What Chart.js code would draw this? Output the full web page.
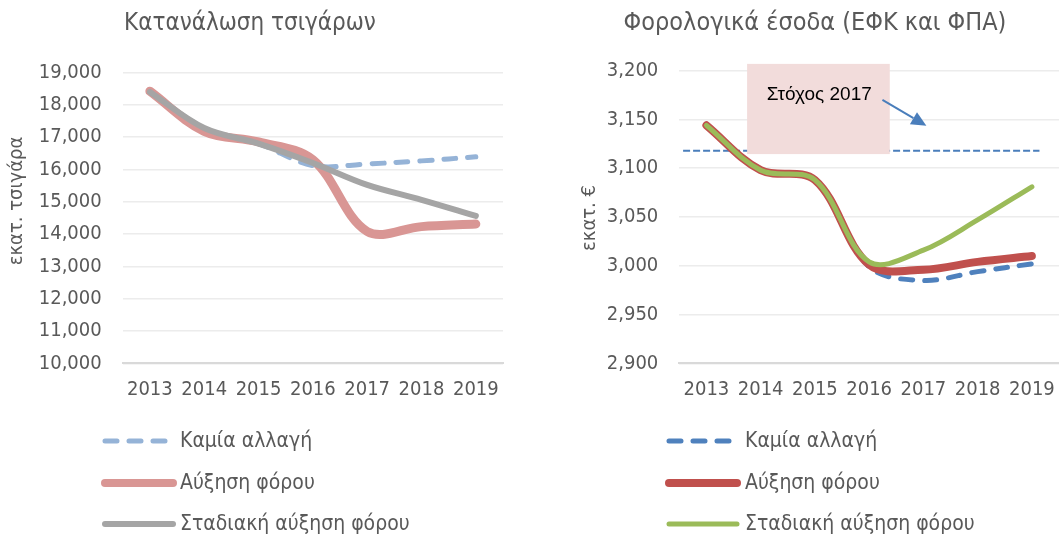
<!DOCTYPE html>
<html><head><meta charset="utf-8">
<script src="https://cdn.jsdelivr.net/npm/chart.js@4"></script>
<style>
html,body{margin:0;padding:0;background:#fff;}
#wrap{position:relative;width:1059px;height:536px;overflow:hidden;}
canvas{position:absolute;top:0;}
#c1{left:0;} #c2{left:530px;}
</style></head><body>
<div id="wrap"><canvas id="c1" width="530" height="536"></canvas><canvas id="c2" width="529" height="536"></canvas></div>
<script>
// ---------- data ----------
const years = ['2013', '2014', '2015', '2016', '2017', '2018', '2019'];

const leftTitle = 'Κατανάλωση τσιγάρων';
const leftAxisTitle = 'εκατ. τσιγάρα';
const cigNoChange   = [18400, 17280, 16800, 16120, 16170, 16265, 16390];
const cigTaxRise    = [18420, 17180, 16850, 16300, 14080, 14230, 14310];
const cigGradual    = [18400, 17280, 16800, 16200, 15520, 15060, 14560];
const leftTicks     = [10000, 19000, 1000]; // min, max, step

const rightTitle = 'Φορολογικά έσοδα (ΕΦΚ και ΦΠΑ)';
const rightAxisTitle = 'εκατ. €';
const revNoChange   = [3144, 3098, 3088, 2999, 2985, 2994, 3002];
const revTaxRise    = [3144, 3098, 3088, 3001, 2996, 3004, 3010];
const revGradual    = [3144, 3098, 3088, 3004, 3016, 3047, 3081];
const rightTicks    = [2900, 3200, 50];
const target2017    = 3118;
const targetLabel   = 'Στόχος 2017';

const seriesNames = ['Καμία αλλαγή', 'Αύξηση φόρου', 'Σταδιακή αύξηση φόρου'];

// ---------- styling ----------
const FONT = "'DejaVu Sans Condensed', 'DejaVu Sans', sans-serif";
const TXT = '#595959';
Chart.defaults.font.family = FONT;
Chart.defaults.font.size = 20;
Chart.defaults.color = TXT;

const fmt = v => Number(v).toLocaleString('en-US');

const overlay = {
  id: 'overlay',
  beforeDatasetsDraw(chart, args, o) {
    if (!o.target) return;
    const ctx = chart.ctx, x = chart.scales.x, y = chart.scales.y;
    const t = o.target;
    ctx.save();
    // target dashed line
    ctx.strokeStyle = '#4a7ebb';
    ctx.lineWidth = 2;
    ctx.setLineDash([7, 3]);
    ctx.beginPath();
    ctx.moveTo(x.getPixelForValue(t.from), y.getPixelForValue(t.value));
    ctx.lineTo(x.getPixelForValue(t.to), y.getPixelForValue(t.value));
    ctx.stroke();
    ctx.setLineDash([]);
    // box
    const bx0 = x.getPixelForValue(t.box[0]), bx1 = x.getPixelForValue(t.box[1]);
    const by0 = y.getPixelForValue(t.box[2]), by1 = y.getPixelForValue(t.box[3]);
    ctx.fillStyle = '#f2dcdb';
    ctx.fillRect(bx0, by0, bx1 - bx0, by1 - by0);
    // label
    ctx.fillStyle = '#000';
    ctx.font = "19px 'Liberation Sans', sans-serif";
    ctx.textAlign = 'left';
    ctx.textBaseline = 'middle';
    ctx.fillText(t.label, x.getPixelForValue(t.text[0]), y.getPixelForValue(t.text[1]));
    // arrow
    const ax0 = x.getPixelForValue(t.arrow[0]), ay0 = y.getPixelForValue(t.arrow[1]);
    const ax1 = x.getPixelForValue(t.arrow[2]), ay1 = y.getPixelForValue(t.arrow[3]);
    const ang = Math.atan2(ay1 - ay0, ax1 - ax0);
    const hl = 15, hw = 7;
    ctx.strokeStyle = '#4a7ebb';
    ctx.fillStyle = '#4a7ebb';
    ctx.lineWidth = 2;
    ctx.beginPath();
    ctx.moveTo(ax0, ay0);
    ctx.lineTo(ax1 - hl * Math.cos(ang), ay1 - hl * Math.sin(ang));
    ctx.stroke();
    ctx.beginPath();
    ctx.moveTo(ax1, ay1);
    ctx.lineTo(ax1 - hl * Math.cos(ang) + hw * Math.sin(ang), ay1 - hl * Math.sin(ang) - hw * Math.cos(ang));
    ctx.lineTo(ax1 - hl * Math.cos(ang) - hw * Math.sin(ang), ay1 - hl * Math.sin(ang) + hw * Math.cos(ang));
    ctx.closePath();
    ctx.fill();
    ctx.restore();
  },
  afterDraw(chart, args, o) {
    const ctx = chart.ctx;
    ctx.save();
    ctx.fillStyle = TXT;
    ctx.font = `${o.titleSize}px ${FONT}`;
    ctx.textAlign = 'center';
    ctx.textBaseline = 'middle';
    ctx.fillText(o.title, o.titleX, o.titleY);
    // rotated y-axis title
    ctx.save();
    ctx.translate(o.yTitleX, o.yTitleY);
    ctx.rotate(-Math.PI / 2);
    ctx.font = `20px ${FONT}`;
    ctx.fillText(o.yTitle, 0, 0);
    ctx.restore();
    // legend
    ctx.font = `21px ${FONT}`;
    ctx.textAlign = 'left';
    o.legendOrder.forEach((di, i) => {
      const ds = chart.data.datasets[di];
      const ly = o.legendY[i];
      ctx.strokeStyle = ds.borderColor;
      ctx.lineWidth = o.legendWidths[i];
      ctx.lineCap = 'round';
      ctx.setLineDash(ds.borderDash || []);
      ctx.beginPath();
      ctx.moveTo(o.sampleX[0], ly);
      ctx.lineTo(o.sampleX[1], ly);
      ctx.stroke();
      ctx.setLineDash([]);
      ctx.fillStyle = TXT;
      ctx.fillText(ds.label, o.textX, ly + 1);
    });
    ctx.restore();
  }
};

function makeChart(id, cfg) {
  const datasets = cfg.series.map((s, i) => ({
    label: seriesNames[i],
    data: s.data,
    borderColor: s.color,
    backgroundColor: s.color,
    borderWidth: s.width,
    borderDash: s.dash || [],
    borderCapStyle: 'round',
    borderJoinStyle: 'round',
    pointRadius: 0,
    pointHoverRadius: 0,
    tension: 0.35,
    fill: false,
    order: s.order
  }));
  return new Chart(document.getElementById(id), {
    type: 'line',
    data: { labels: years, datasets },
    plugins: [overlay],
    options: {
      responsive: false,
      animation: false,
      events: [],
      layout: { padding: cfg.padding },
      plugins: {
        legend: { display: false },
        tooltip: { enabled: false },
        overlay: cfg.overlay
      },
      scales: {
        x: {
          offset: true,
          grid: { display: true, drawOnChartArea: false, drawTicks: true, tickLength: 14, tickColor: 'rgba(0,0,0,0)' },
          border: { display: true, color: '#d9d9d9', width: 2 },
          ticks: { padding: 0, color: TXT, maxRotation: 0, autoSkip: false },
          afterFit: s => { s.height = 40; }
        },
        y: {
          min: cfg.ticks[0], max: cfg.ticks[1],
          grid: { color: '#ececec', lineWidth: 1.5, drawTicks: false },
          border: { display: false },
          ticks: { stepSize: cfg.ticks[2], padding: 21, color: TXT, callback: v => fmt(v) },
          afterFit: s => { s.width = cfg.yWidth; }
        }
      }
    }
  });
}

makeChart('c1', {
  series: [
    { data: cigNoChange, color: '#95b3d7', width: 5, dash: [12, 12], order: 3 },
    { data: cigTaxRise,  color: '#d99694', width: 9, order: 2 },
    { data: cigGradual,  color: '#a5a5a5', width: 6, order: 1 }
  ],
  ticks: leftTicks,
  yWidth: 122.7,
  padding: { top: 72.5, left: 0, right: 27, bottom: 132.7 },
  overlay: {
    title: leftTitle, titleX: 250, titleY: 24, titleSize: 24,
    yTitle: leftAxisTitle, yTitleX: 17, yTitleY: 201,
    legendOrder: [0, 1, 2], legendY: [441, 483, 524], legendWidths: [5, 8, 6],
    sampleX: [105, 173], textX: 180
  }
});

makeChart('c2', {
  series: [
    { data: revNoChange, color: '#4f81bd', width: 5, dash: [12, 12], order: 3 },
    { data: revTaxRise,  color: '#c0504d', width: 8, order: 2 },
    { data: revGradual,  color: '#9bbb59', width: 5, order: 1 }
  ],
  ticks: rightTicks,
  yWidth: 149.3,
  padding: { top: 70.7, left: 0, right: 0, bottom: 132.7 },
  overlay: {
    title: rightTitle, titleX: 285, titleY: 23, titleSize: 25,
    yTitle: rightAxisTitle, yTitleX: 60, yTitleY: 218,
    legendOrder: [0, 1, 2], legendY: [441, 483, 524], legendWidths: [5, 8, 5],
    sampleX: [139, 207], textX: 215,
    target: {
      value: target2017, from: -0.43, to: 6.14,
      box: [0.75, 3.38, 3207, 3114.5],
      label: targetLabel, text: [1.11, 3175],
      arrow: [3.245, 3170, 4.055, 3143.5]
    }
  }
});
</script>
</body></html>
